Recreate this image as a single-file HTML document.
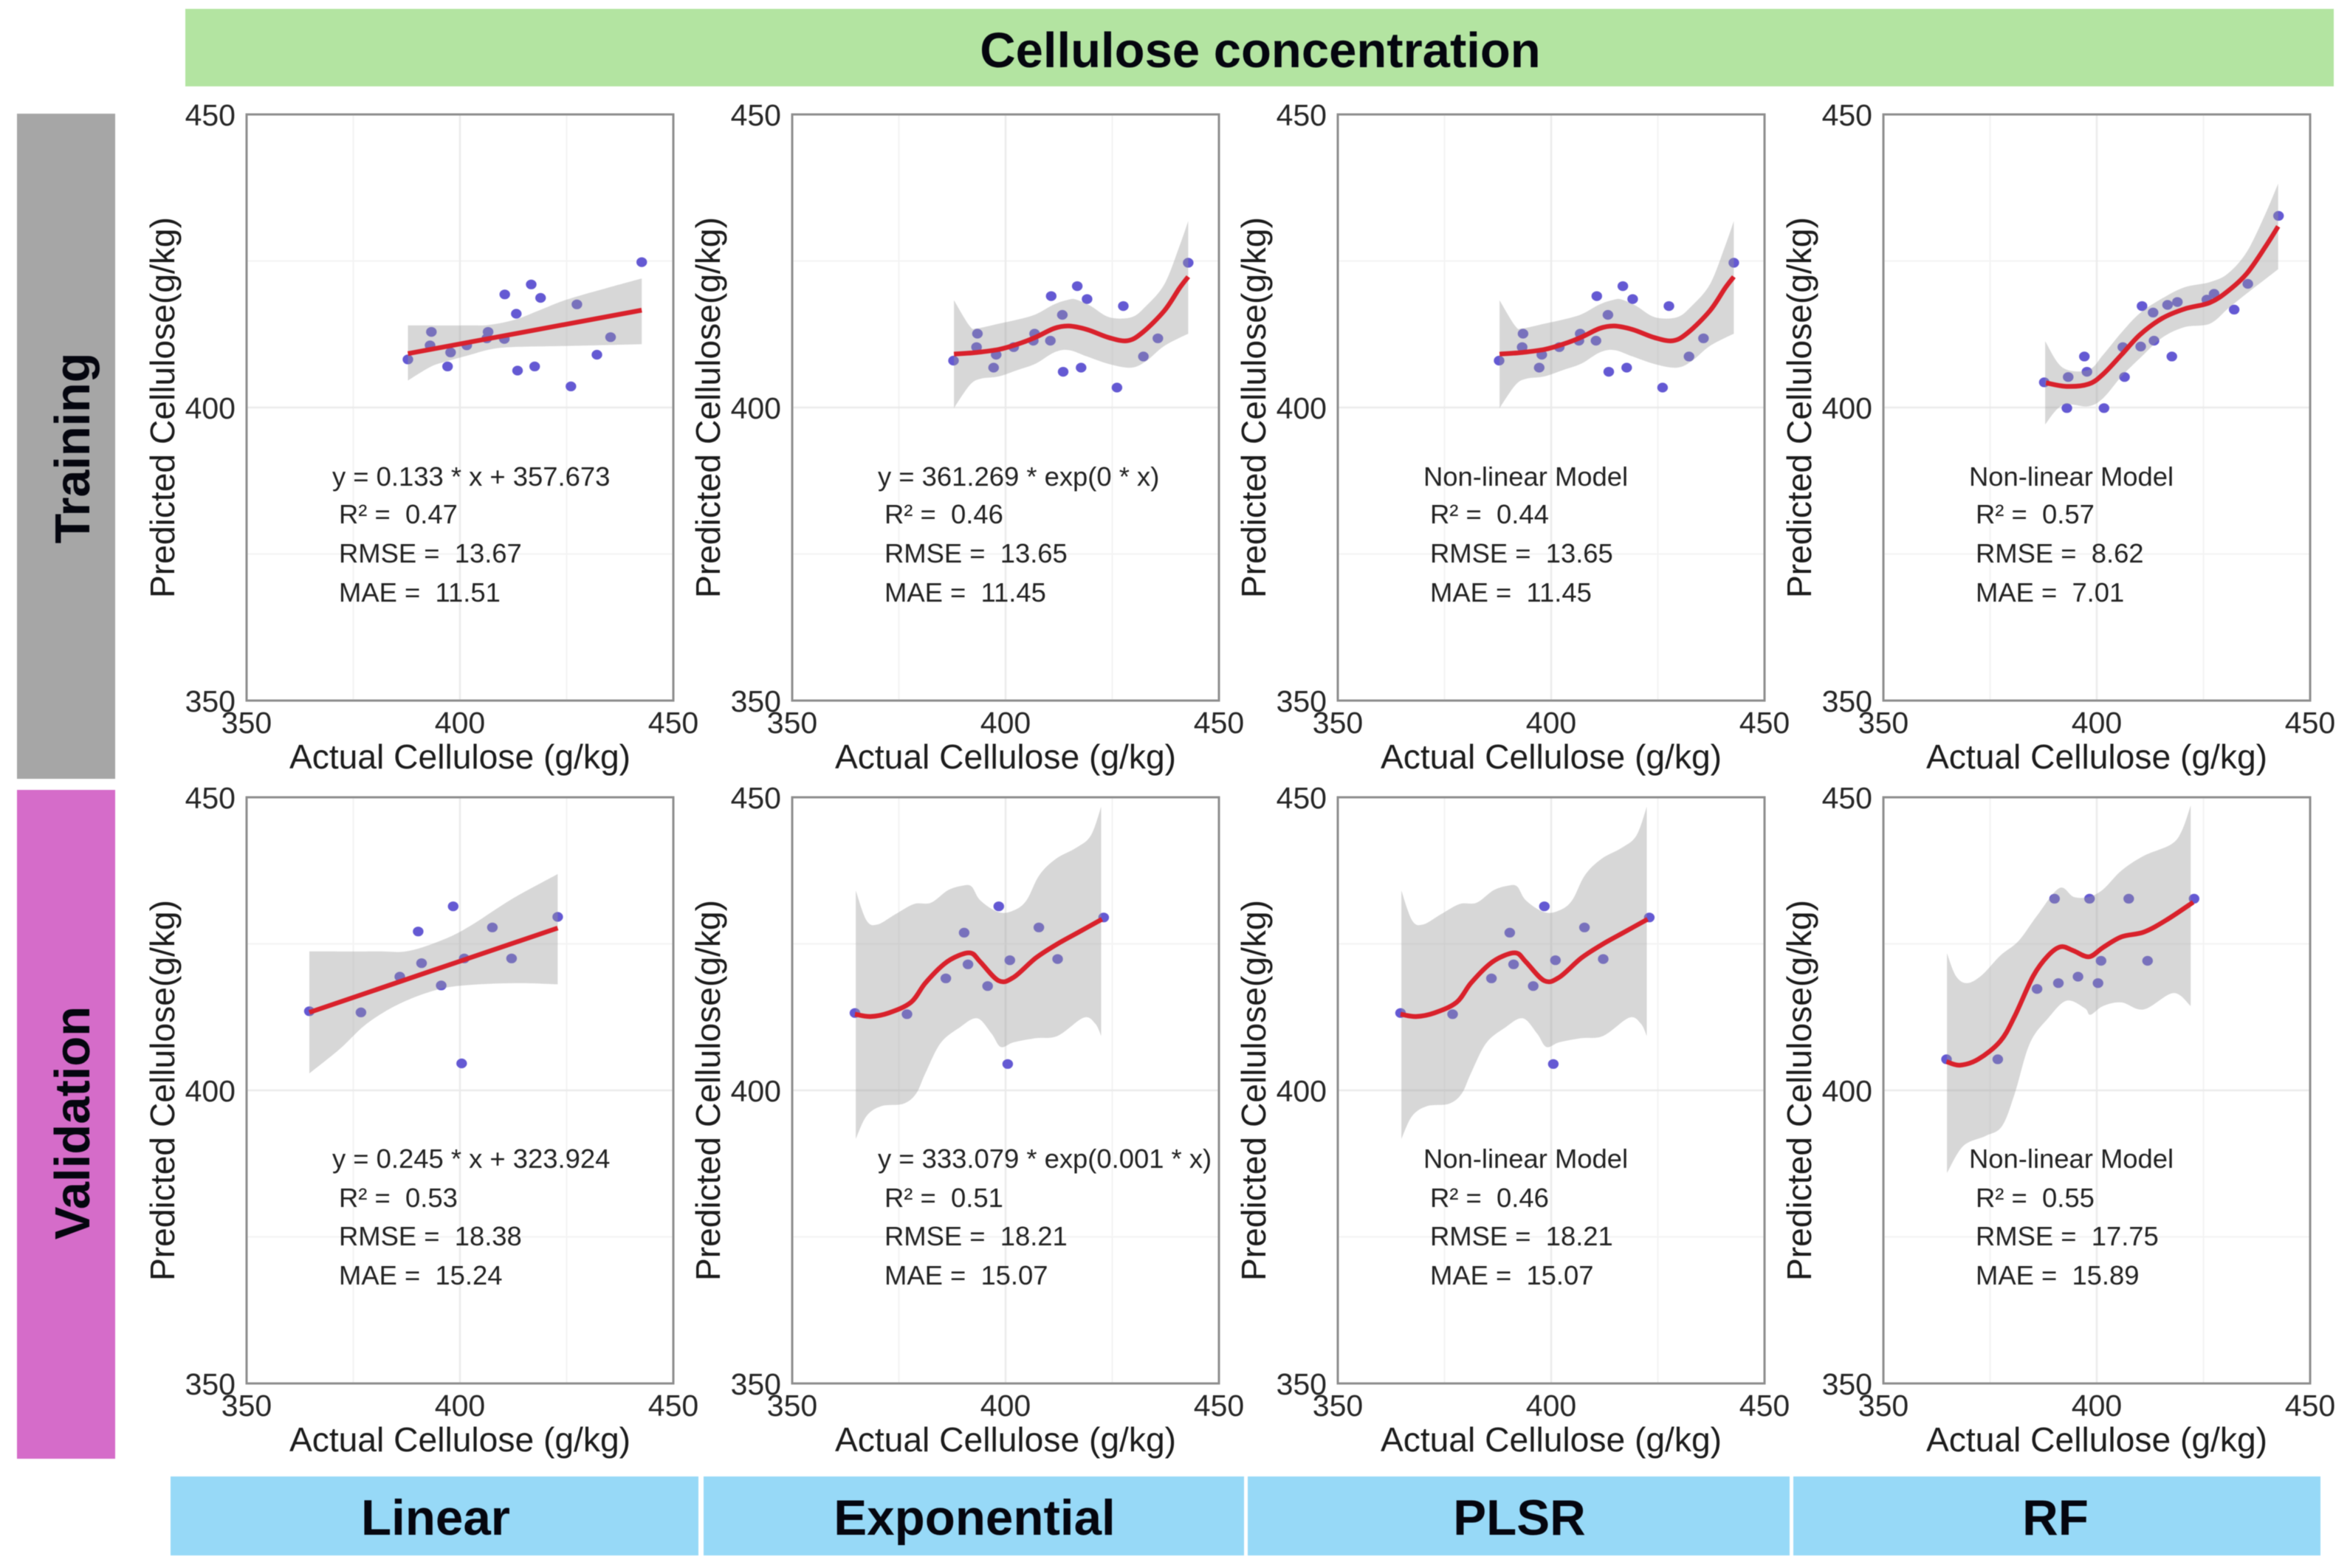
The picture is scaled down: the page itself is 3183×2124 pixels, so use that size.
<!DOCTYPE html>
<html lang="en">
<head>
<meta charset="utf-8">
<title>Cellulose concentration: predicted vs actual</title>
<style>
html,body{margin:0;padding:0;background:#fff;}
svg{display:block;font-family:"Liberation Sans",Arial,sans-serif;filter:blur(0.6px);}
.ann{font-size:36.4px;fill:#222;white-space:pre;}
.hdr{font-weight:bold;fill:#05060f;}
</style>
</head>
<body>
<svg id="figure" xmlns="http://www.w3.org/2000/svg" width="3183" height="2124" viewBox="0 0 3183 2124">
  <rect x="0" y="0" width="3183" height="2124" fill="#ffffff"/>

  <rect x="251" y="12" width="2910" height="105" fill="#b3e4a1"/>
  <text class="hdr" x="1707" y="91" font-size="67" text-anchor="middle">Cellulose concentration</text>

  <rect x="23" y="154" width="133" height="901" fill="#a6a6a6"/>
  <text class="hdr" transform="translate(121,607) rotate(-90)" font-size="66.5" text-anchor="middle">Training</text>
  <rect x="23" y="1070" width="133" height="906" fill="#d56cc9"/>
  <text class="hdr" transform="translate(121,1521) rotate(-90)" font-size="67" text-anchor="middle">Validation</text>

  <rect x="231" y="2000" width="715" height="107" fill="#97d9f7"/>
  <text class="hdr" x="590" y="2079" font-size="67.3" text-anchor="middle">Linear</text>
  <rect x="953" y="2000" width="732" height="107" fill="#97d9f7"/>
  <text class="hdr" x="1320" y="2079" font-size="67.3" text-anchor="middle">Exponential</text>
  <rect x="1690" y="2000" width="734" height="107" fill="#97d9f7"/>
  <text class="hdr" x="2058" y="2079" font-size="67.3" text-anchor="middle">PLSR</text>
  <rect x="2429" y="2000" width="714" height="107" fill="#97d9f7"/>
  <text class="hdr" x="2784" y="2079" font-size="67.3" text-anchor="middle">RF</text>

  <g id="panels"></g>

  <g>
    <text class="ann" x="450" y="658">y = 0.133 * x + 357.673</text>
    <text class="ann" x="459" y="709">R² =  0.47</text>
    <text class="ann" x="459" y="762">RMSE =  13.67</text>
    <text class="ann" x="459" y="815">MAE =  11.51</text>
  </g>
  <g>
    <text class="ann" x="1189" y="658">y = 361.269 * exp(0 * x)</text>
    <text class="ann" x="1198" y="709">R² =  0.46</text>
    <text class="ann" x="1198" y="762">RMSE =  13.65</text>
    <text class="ann" x="1198" y="815">MAE =  11.45</text>
  </g>
  <g>
    <text class="ann" x="1928" y="658">Non-linear Model</text>
    <text class="ann" x="1937" y="709">R² =  0.44</text>
    <text class="ann" x="1937" y="762">RMSE =  13.65</text>
    <text class="ann" x="1937" y="815">MAE =  11.45</text>
  </g>
  <g>
    <text class="ann" x="2667" y="658">Non-linear Model</text>
    <text class="ann" x="2676" y="709">R² =  0.57</text>
    <text class="ann" x="2676" y="762">RMSE =  8.62</text>
    <text class="ann" x="2676" y="815">MAE =  7.01</text>
  </g>
  <g>
    <text class="ann" x="450" y="1582">y = 0.245 * x + 323.924</text>
    <text class="ann" x="459" y="1635">R² =  0.53</text>
    <text class="ann" x="459" y="1687">RMSE =  18.38</text>
    <text class="ann" x="459" y="1740">MAE =  15.24</text>
  </g>
  <g>
    <text class="ann" x="1189" y="1582">y = 333.079 * exp(0.001 * x)</text>
    <text class="ann" x="1198" y="1635">R² =  0.51</text>
    <text class="ann" x="1198" y="1687">RMSE =  18.21</text>
    <text class="ann" x="1198" y="1740">MAE =  15.07</text>
  </g>
  <g>
    <text class="ann" x="1928" y="1582">Non-linear Model</text>
    <text class="ann" x="1937" y="1635">R² =  0.46</text>
    <text class="ann" x="1937" y="1687">RMSE =  18.21</text>
    <text class="ann" x="1937" y="1740">MAE =  15.07</text>
  </g>
  <g>
    <text class="ann" x="2667" y="1582">Non-linear Model</text>
    <text class="ann" x="2676" y="1635">R² =  0.55</text>
    <text class="ann" x="2676" y="1687">RMSE =  17.75</text>
    <text class="ann" x="2676" y="1740">MAE =  15.89</text>
  </g>
</svg>

<script>
// Axis values
var tickValues = [350, 400, 450];
var tickLabels = ['350', '400', '450'];
var minorTickValues = [375, 425];
var xAxisTitle = 'Actual Cellulose (g/kg)';
var yAxisTitle = 'Predicted Cellulose(g/kg)';

// Training: Linear
var tlActual = [387.8,393.0,393.3,397.8,397.1,401.6,406.3,406.6,410.4,410.5,413.2,413.5,416.7,417.5,418.9,426.0,427.4,432.1,435.3,442.6];
var tlPredicted = [408.2,410.6,412.9,409.4,407.0,410.6,411.8,412.9,411.7,419.3,416.0,406.3,421.0,407.0,418.7,403.6,417.6,409.0,412.0,424.8];
var tlFitX = [387.8,442.6];
var tlFitY = [409.2,416.6];
var tlUpperX = [387.8,402,407,413,418,425,436,442.6];
var tlUpperY = [414,414,414.1,415,416.4,418.4,420.7,422];
var tlLowerX = [387.8,393,397,402,407,412,425,442.6];
var tlLowerY = [404.6,406.9,407.9,408.9,409.9,410.3,410.5,410.8];

// Training: Exponential
var teActual = [387.8,393.2,393.4,397.8,397.2,401.9,406.5,406.8,410.5,410.7,413.3,413.5,416.8,417.7,419.1,426.1,427.6,432.3,435.7,442.8];
var tePredicted = [408.0,410.3,412.6,409.0,406.8,410.3,411.4,412.6,411.4,419.0,415.8,406.1,420.7,406.8,418.5,403.4,417.3,408.7,411.8,424.7];
var teFitX = [387.9,393.3,398.4,402.8,407.1,411.4,414.8,419.1,424.3,428.6,432.1,437.2,440.7,442.8];
var teFitY = [409.1,409.4,409.9,410.8,412,413.5,413.9,413.3,411.9,411.4,412.8,416.5,420.3,422.3];
var teUpperX = [387.9,391.6,393.3,398.4,402.8,407.1,411.4,414.8,416.6,420,424.3,429.5,432.9,437.2,440.7,442.8];
var teUpperY = [418.3,413.9,413.5,414.3,415,415.9,417.6,418.4,418.4,417.3,415.4,415.4,417.3,421,427.4,431.8];
var teLowerX = [387.9,391.6,394.1,398.4,402.8,407.1,411.4,414.8,419.1,424.3,429.5,432.9,437.2,442.8];
var teLowerY = [399.9,403.8,404.9,405.3,406.4,407.5,409.4,409.8,408.7,407.4,406.8,407.9,410.5,412.6];

// Training: PLSR
var tpActual = [387.8,393.2,393.4,397.8,397.2,401.9,406.5,406.8,410.5,410.7,413.3,413.5,416.8,417.7,419.1,426.1,427.6,432.3,435.7,442.8];
var tpPredicted = [408.0,410.3,412.6,409.0,406.8,410.3,411.4,412.6,411.4,419.0,415.8,406.1,420.7,406.8,418.5,403.4,417.3,408.7,411.8,424.7];
var tpFitX = [387.9,393.3,398.4,402.8,407.1,411.4,414.8,419.1,424.3,428.6,432.1,437.2,440.7,442.8];
var tpFitY = [409.1,409.4,409.9,410.8,412,413.5,413.9,413.3,411.9,411.4,412.8,416.5,420.3,422.3];
var tpUpperX = [387.9,391.6,393.3,398.4,402.8,407.1,411.4,414.8,416.6,420,424.3,429.5,432.9,437.2,440.7,442.8];
var tpUpperY = [418.3,413.9,413.5,414.3,415,415.9,417.6,418.4,418.4,417.3,415.4,415.4,417.3,421,427.4,431.8];
var tpLowerX = [387.9,391.6,394.1,398.4,402.8,407.1,411.4,414.8,419.1,424.3,429.5,432.9,437.2,442.8];
var tpLowerY = [399.9,403.8,404.9,405.3,406.4,407.5,409.4,409.8,408.7,407.4,406.8,407.9,410.5,412.6];

// Training: RF
var trActual = [387.7,393.3,393.0,397.1,397.7,401.7,406.1,406.5,410.3,410.6,413.2,413.4,416.6,417.6,418.9,425.8,427.5,432.2,435.4,442.6];
var trPredicted = [404.3,405.2,399.9,408.7,406.1,399.9,410.3,405.2,410.4,417.3,416.2,411.4,417.5,408.7,418,418.4,419.4,416.7,421.1,432.7];
var trFitX = [388.1,392.9,398.1,401.5,405.8,410.1,415.3,420.5,426.5,430.8,435.2,439.5,442.5];
var trFitY = [404.2,403.6,404,405.7,409,412.4,415.2,416.8,417.9,419.9,422.9,427.4,430.9];
var trUpperX = [387.9,392,398,401.5,405.8,410.1,415.3,420.5,426.5,430.8,435.2,439.5,442.5];
var trUpperY = [411.3,406.8,406.4,409,412.8,416.1,418.6,420.5,421.4,422.9,426.6,433,438.2];
var trLowerX = [387.9,392,398,401.5,405.8,410.1,415.3,420.5,426.5,430.8,435.2,439.5,442.5];
var trLowerY = [397.1,400.4,400.2,401.6,405.3,408.4,411.9,413.7,414.3,416.9,419.5,421.9,423.6];

// Validation: Linear
var vlActual = [364.7,376.8,385.9,390.2,391,395.6,398.4,400.4,401,407.6,412.1,422.9];
var vlPredicted = [413.5,413.3,419.4,427.1,421.7,417.9,431.4,404.6,422.5,427.8,422.5,429.6];
var vlFitX = [364.7,422.9];
var vlFitY = [413.3,427.7];
var vlUpperX = [364.7,380.4,388.1,397,402.5,408,413.5,422.9];
var vlUpperY = [423.7,423.7,423.8,426,428.1,430.7,433.2,436.9];
var vlLowerX = [364.7,371.9,378.2,385.9,394.8,402.5,413.5,422.9];
var vlLowerY = [402.9,407.1,411.4,414.8,417.2,418,418.3,418.1];

// Validation: Exponential
var veActual = [364.7,376.9,386,390.3,391.2,395.8,398.4,400.5,401,407.8,412.2,423];
var vePredicted = [413.2,413,419.1,426.9,421.5,417.8,431.4,404.5,422.2,427.8,422.4,429.5];
var veFitX = [364.7,368.3,372.6,377.8,381.2,385.5,389,392,394.1,398.4,401.9,407.1,412.2,417.4,422.6];
var veFitY = [413,412.6,413.2,415,418.3,421.5,423,423.4,421.9,418.7,419.3,422.6,425,427.1,429.2];
var veUpperX = [364.9,367.4,370,374.3,378.6,382.5,386.4,389.8,392,394.1,398.4,401.9,404.9,407.9,411.8,416.6,420,422.4];
var veUpperY = [434.1,429,428.3,430.1,431.8,432,434.1,434.9,434.8,432.4,430.4,430.7,432.4,436.7,439.5,441.4,443.5,448.4];
var veLowerX = [364.9,367.4,370.9,376,379,381.2,384.7,389,393.3,396.7,398.9,401.9,407.1,412.2,418.3,421,422.4];
var veLowerY = [391.7,395.6,397.3,397.7,399.4,402.9,408,410.6,412.3,409.7,407.4,408.2,408.9,409.3,412.4,411.4,409.3];

// Validation: PLSR
var vpActual = [364.7,376.9,386,390.3,391.2,395.8,398.4,400.5,401,407.8,412.2,423];
var vpPredicted = [413.2,413,419.1,426.9,421.5,417.8,431.4,404.5,422.2,427.8,422.4,429.5];
var vpFitX = [364.7,368.3,372.6,377.8,381.2,385.5,389,392,394.1,398.4,401.9,407.1,412.2,417.4,422.6];
var vpFitY = [413,412.6,413.2,415,418.3,421.5,423,423.4,421.9,418.7,419.3,422.6,425,427.1,429.2];
var vpUpperX = [364.9,367.4,370,374.3,378.6,382.5,386.4,389.8,392,394.1,398.4,401.9,404.9,407.9,411.8,416.6,420,422.4];
var vpUpperY = [434.1,429,428.3,430.1,431.8,432,434.1,434.9,434.8,432.4,430.4,430.7,432.4,436.7,439.5,441.4,443.5,448.4];
var vpLowerX = [364.9,367.4,370.9,376,379,381.2,384.7,389,393.3,396.7,398.9,401.9,407.1,412.2,418.3,421,422.4];
var vpLowerY = [391.7,395.6,397.3,397.7,399.4,402.9,408,410.6,412.3,409.7,407.4,408.2,408.9,409.3,412.4,411.4,409.3];

// Validation: RF
var vrActual = [364.8,376.8,386,390.1,391,395.6,398.3,400.3,401,407.5,411.9,422.8];
var vrPredicted = [405.3,405.3,417.3,432.7,418.3,419.4,432.7,418.3,422.1,432.7,422.1,432.7];
var vrFitX = [364.8,367.9,372.2,377.4,380.8,385.1,388.6,391.6,394.6,398.2,401.5,405.8,411,416.2,422.6];
var vrFitY = [404.9,404.3,405.3,408.4,412.7,419.5,423,424.5,423.8,422.8,424.4,426.2,427,429,432.1];
var vrUpperX = [364.9,367,369.6,373,377.4,381.7,386,391.2,394.6,398.1,401.5,405.8,411,417.5,420,422];
var vrUpperY = [423.4,419.5,418.3,419.6,423,425.5,429.8,434.5,433,433,434.3,437.5,440,442,444.4,448.6];
var vrLowerX = [364.9,368.7,373.9,377.8,380.8,384.3,388.6,392.9,397.2,398.5,401.5,405.8,411,417.9,422];
var vrLowerY = [385.9,390.5,392.2,393.9,399.5,408,412.3,415.3,414,412.9,414.4,415,413.8,416.6,414.4];

var panelList = [
  {key:'training-linear', col:0,row:0,ax:tlActual,py:tlPredicted,fx:tlFitX,fy:tlFitY,ux:tlUpperX,uy:tlUpperY,lx:tlLowerX,ly:tlLowerY},
  {key:'training-exponential', col:1,row:0,ax:teActual,py:tePredicted,fx:teFitX,fy:teFitY,ux:teUpperX,uy:teUpperY,lx:teLowerX,ly:teLowerY},
  {key:'training-plsr', col:2,row:0,ax:tpActual,py:tpPredicted,fx:tpFitX,fy:tpFitY,ux:tpUpperX,uy:tpUpperY,lx:tpLowerX,ly:tpLowerY},
  {key:'training-rf', col:3,row:0,ax:trActual,py:trPredicted,fx:trFitX,fy:trFitY,ux:trUpperX,uy:trUpperY,lx:trLowerX,ly:trLowerY},
  {key:'validation-linear', col:0,row:1,ax:vlActual,py:vlPredicted,fx:vlFitX,fy:vlFitY,ux:vlUpperX,uy:vlUpperY,lx:vlLowerX,ly:vlLowerY},
  {key:'validation-exponential', col:1,row:1,ax:veActual,py:vePredicted,fx:veFitX,fy:veFitY,ux:veUpperX,uy:veUpperY,lx:veLowerX,ly:veLowerY},
  {key:'validation-plsr', col:2,row:1,ax:vpActual,py:vpPredicted,fx:vpFitX,fy:vpFitY,ux:vpUpperX,uy:vpUpperY,lx:vpLowerX,ly:vpLowerY},
  {key:'validation-rf', col:3,row:1,ax:vrActual,py:vrPredicted,fx:vrFitX,fy:vrFitY,ux:vrUpperX,uy:vrUpperY,lx:vrLowerX,ly:vrLowerY}
];

var NS = 'http://www.w3.org/2000/svg';
var root = document.getElementById('panels');
var axisMin = 350, axisMax = 450;
var plotW = 578, plotH = 794;

function make(parent, tag, attrs, text) {
  var el = document.createElementNS(NS, tag);
  for (var k in attrs) el.setAttribute(k, attrs[k]);
  if (text !== undefined) el.textContent = text;
  parent.appendChild(el);
  return el;
}

function curveSegments(pts) {
  var d = '';
  for (var i = 0; i < pts.length - 1; i++) {
    var p0 = pts[Math.max(i - 1, 0)], p1 = pts[i], p2 = pts[i + 1], p3 = pts[Math.min(i + 2, pts.length - 1)];
    var c1x = p1[0] + (p2[0] - p0[0]) / 6, c1y = p1[1] + (p2[1] - p0[1]) / 6;
    var c2x = p2[0] - (p3[0] - p1[0]) / 6, c2y = p2[1] - (p3[1] - p1[1]) / 6;
    d += 'C' + c1x.toFixed(1) + ' ' + c1y.toFixed(1) + ' ' + c2x.toFixed(1) + ' ' + c2y.toFixed(1) + ' ' + p2[0].toFixed(1) + ' ' + p2[1].toFixed(1);
  }
  return d;
}

panelList.forEach(function (p) {
  var left = 334 + p.col * 739;
  var top = p.row === 0 ? 155 : 1080;
  var bottom = top + plotH;
  var sx = function (v) { return left + (v - axisMin) / (axisMax - axisMin) * plotW; };
  var sy = function (v) { return bottom - (v - axisMin) / (axisMax - axisMin) * plotH; };
  var toPts = function (xs, ys) { return xs.map(function (x, i) { return [sx(x), sy(ys[i])]; }); };

  var g = make(root, 'g', {});
  
  

  minorTickValues.forEach(function (v) {
    var gx = make(g, 'line', {x1: sx(v), x2: sx(v), y1: top, y2: bottom, stroke: '#f3f3f3', 'stroke-width': 2});
    
    
    var gy = make(g, 'line', {x1: left, x2: left + plotW, y1: sy(v), y2: sy(v), stroke: '#f3f3f3', 'stroke-width': 2});
    
    
  });
  [400].forEach(function (v) {
    var gx = make(g, 'line', {x1: sx(v), x2: sx(v), y1: top, y2: bottom, stroke: '#ebebeb', 'stroke-width': 2.5});
    
    
    var gy = make(g, 'line', {x1: left, x2: left + plotW, y1: sy(v), y2: sy(v), stroke: '#ebebeb', 'stroke-width': 2.5});
    
    
  });

  p.ax.forEach(function (x, i) {
    var c = make(g, 'ellipse', {cx: sx(x).toFixed(1), cy: sy(p.py[i]).toFixed(1), rx: 7.2, ry: 6.6, fill: '#6459d3'});
    
    
  });

  var up = toPts(p.ux, p.uy);
  var lo = toPts(p.lx, p.ly).reverse();
  var bandD = 'M' + up[0][0].toFixed(1) + ' ' + up[0][1].toFixed(1) + curveSegments(up) +
    'L' + lo[0][0].toFixed(1) + ' ' + lo[0][1].toFixed(1) + curveSegments(lo) + 'Z';
  var band = make(g, 'path', {d: bandD, fill: 'rgb(153,153,153)', 'fill-opacity': 0.39});
  
  

  var fit = toPts(p.fx, p.fy);
  var fitD = 'M' + fit[0][0].toFixed(1) + ' ' + fit[0][1].toFixed(1) + curveSegments(fit);
  var line = make(g, 'path', {d: fitD, fill: 'none', stroke: '#d9212b', 'stroke-width': 6.4, 'stroke-linecap': 'butt'});
  
  

  var frame = make(g, 'rect', {x: left, y: top, width: plotW, height: plotH, fill: 'none', stroke: '#8e8e8e', 'stroke-width': 3});
  
  

  tickValues.forEach(function (v, i) {
    var tx = make(g, 'text', {x: sx(v), y: bottom + 44, 'text-anchor': 'middle', 'font-size': 41, fill: '#262626'}, tickLabels[i]);
    
    
    var ty = make(g, 'text', {x: left - 15, y: sy(v) + 15, 'text-anchor': 'end', 'font-size': 41, fill: '#262626'}, tickLabels[i]);
    
    
  });

  var xt = make(g, 'text', {x: left + plotW / 2, y: bottom + 92, 'text-anchor': 'middle', 'font-size': 46.2, fill: '#1c1c1c'}, xAxisTitle);
  
  
  var yt = make(g, 'text', {transform: 'translate(' + (left - 98) + ',' + (top + plotH / 2) + ') rotate(-90)', 'text-anchor': 'middle', 'font-size': 46.2, fill: '#1c1c1c'}, yAxisTitle);
  
  
});
</script>
</body>
</html>
